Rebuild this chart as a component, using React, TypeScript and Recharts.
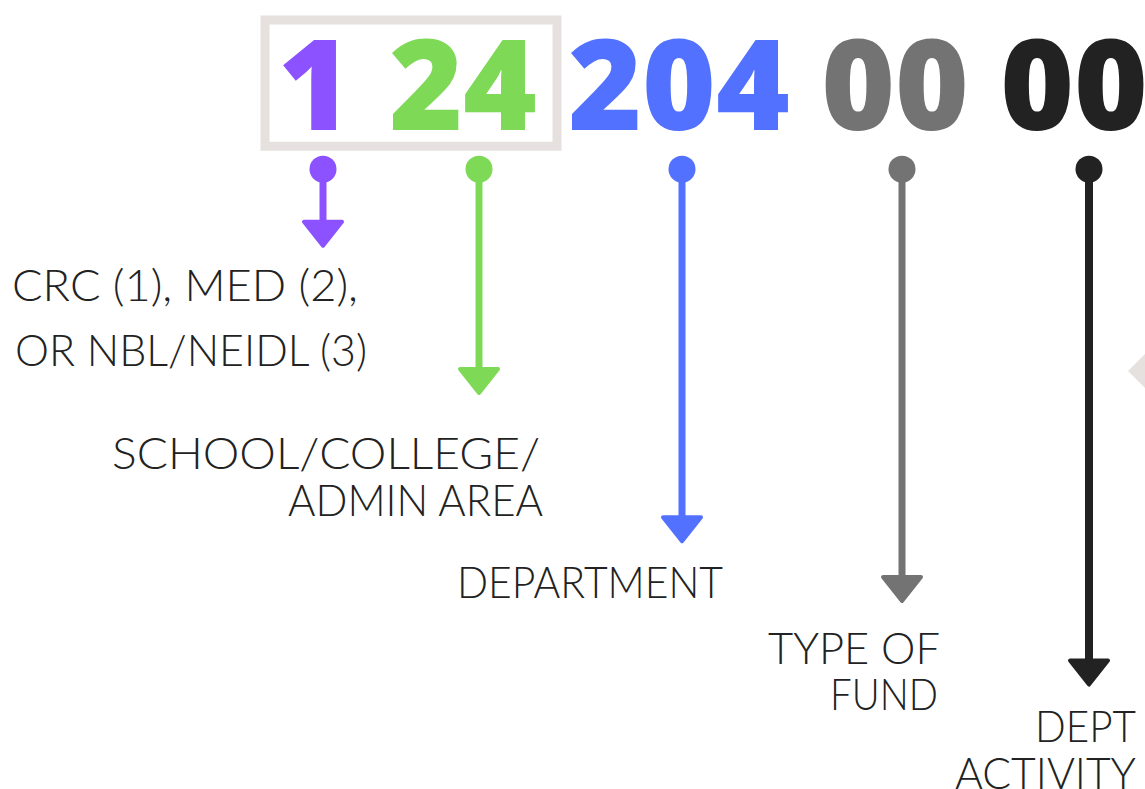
import React from "react";
import {
  ScatterChart,
  Scatter,
  XAxis,
  YAxis,
  ReferenceArea,
  ReferenceLine,
} from "recharts";

// Code segments shown at the top
const segments = ["1", "24", "204", "00", "00"];
const segmentColors = ["#8c52ff", "#7ed957", "#5271ff", "#737373", "#222222"];
const segmentCenterX = [315, 463, 679, 895, 1074];
const segmentBaselineY = 131;

// Arrows (one per segment)
const arrowX = [323, 479, 682, 902, 1089];
const arrowStartY = 170;
const arrowTipY = [249, 397, 546, 606, 690];

// Label lines
const labelLines = [
  "CRC (1), MED (2),",
  "OR NBL/NEIDL (3)",
  "SCHOOL/COLLEGE/",
  "ADMIN AREA",
  "DEPARTMENT",
  "TYPE OF",
  "FUND",
  "DEPT",
  "ACTIVITY",
];
const labelLeftX = [12, 15, 112, 288, 457, 768, 830, 1035, 955];
const labelRightX = [358, 367, 540, 543, 723, 940, 938, 1136, 1136];
const labelBaselineY = [303, 368, 471, 519, 601, 667, 714, 746, 793];

// Box around first two segments
const boxX = [265, 557];
const boxY = [20, 147];

// Partial decoration at the right edge
const decoPoint = [{ x: 1128, y: 373 }];

const W = 1145;
const H = 789;

const segmentData = segments.map((s, i) => ({
  x: segmentCenterX[i],
  y: segmentBaselineY,
  text: s,
  color: segmentColors[i],
}));
const dotData = arrowX.map((x, i) => ({ x, y: arrowStartY, color: segmentColors[i] }));
const tipData = arrowX.map((x, i) => ({ x, y: arrowTipY[i], color: segmentColors[i] }));
const labelData = labelLines.map((t, i) => ({
  x: labelLeftX[i],
  y: labelBaselineY[i],
  x2: labelRightX[i],
  text: t,
}));

const pl = (p: any) => p.payload ?? p;

const SegmentText = (p: any) => (
  <text
    x={p.cx}
    y={p.cy}
    textAnchor="middle"
    fontFamily="'Open Sans', sans-serif"
    fontWeight={800}
    fontSize={126}
    fill={pl(p).color}
  >
    {pl(p).text}
  </text>
);

const Dot = (p: any) => <circle cx={p.cx} cy={p.cy} r={13.5} fill={pl(p).color} />;

const Tip = (p: any) => (
  <path
    d={`M${p.cx - 19},${p.cy - 26} L${p.cx + 19},${p.cy - 26} L${p.cx},${p.cy - 2} Z`}
    fill={pl(p).color}
    stroke={pl(p).color}
    strokeWidth={4}
    strokeLinejoin="round"
  />
);

const Label = (p: any) => {
  const d = pl(p);
  return (
    <text
      x={p.cx}
      y={p.cy}
      textAnchor="start"
      textLength={d.x2 - d.x}
      lengthAdjust="spacingAndGlyphs"
      fontFamily="Lato, sans-serif"
      fontWeight={300}
      fontSize={44}
      fill="#222222"
    >
      {d.text}
    </text>
  );
};

const Deco = (p: any) => (
  <path
    d={`M${p.cx},${p.cy} L${p.cx + 30},${p.cy - 30} L${p.cx + 30},${p.cy + 30} Z`}
    fill="#e6e1de"
  />
);

export default function App() {
  return (
    <div style={{ position: "absolute", left: 0, top: 0, width: W, height: H, background: "#fff" }}>
      <ScatterChart width={W} height={H} margin={{ top: 0, right: 0, bottom: 0, left: 0 }}>
        <XAxis type="number" dataKey="x" domain={[0, W]} hide />
        <YAxis type="number" dataKey="y" domain={[0, H]} reversed hide />
        <ReferenceArea
          x1={boxX[0]}
          x2={boxX[1]}
          y1={boxY[0]}
          y2={boxY[1]}
          fill="none"
          fillOpacity={0}
          stroke="#e6e1de"
          strokeWidth={9}
          ifOverflow="visible"
        />
        {arrowX.map((x, i) => (
          <ReferenceLine
            key={i}
            segment={[
              { x, y: arrowStartY },
              { x, y: arrowTipY[i] - 20 },
            ]}
            stroke={segmentColors[i]}
            strokeWidth={i === 4 ? 8 : 7}
            ifOverflow="visible"
          />
        ))}
        <Scatter data={segmentData} shape={SegmentText} isAnimationActive={false} />
        <Scatter data={dotData} shape={Dot} isAnimationActive={false} />
        <Scatter data={tipData} shape={Tip} isAnimationActive={false} />
        <Scatter data={labelData} shape={Label} isAnimationActive={false} />
        <Scatter data={decoPoint} shape={Deco} isAnimationActive={false} />
      </ScatterChart>
    </div>
  );
}
